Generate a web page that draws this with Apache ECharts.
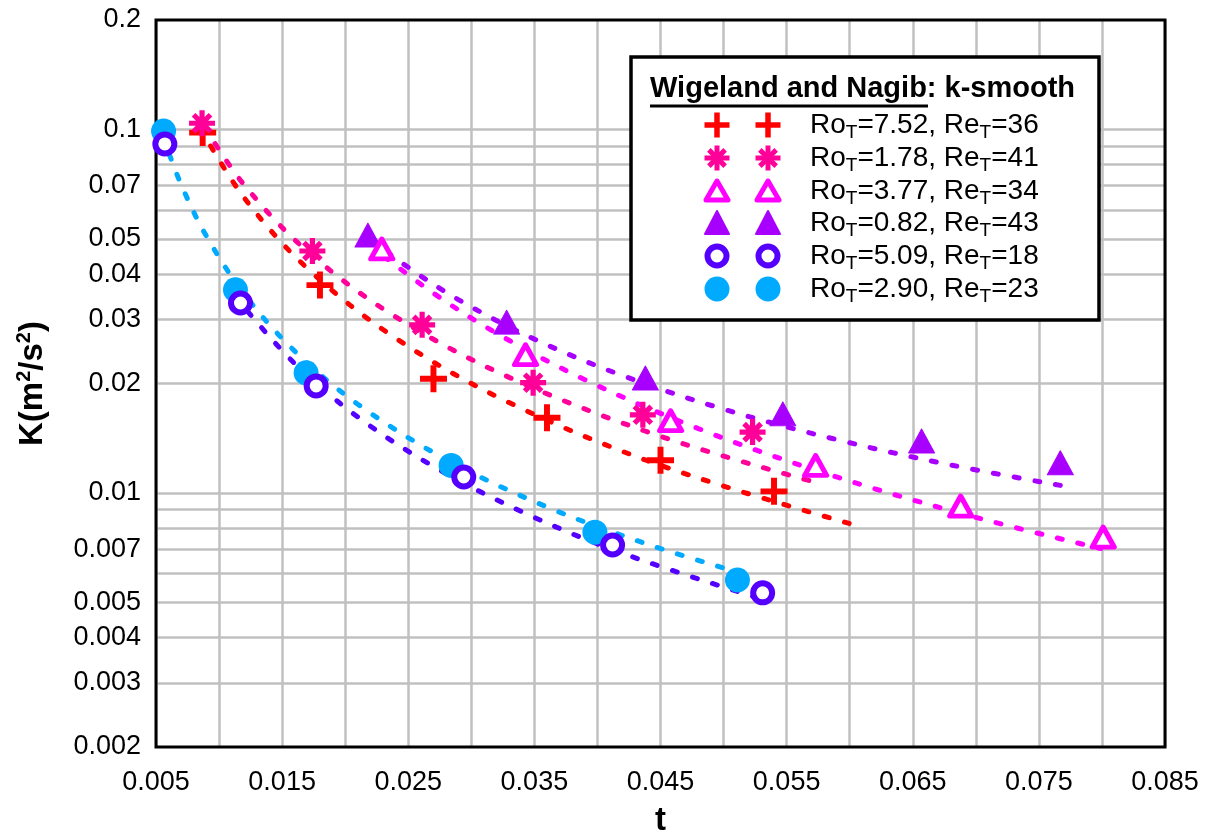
<!DOCTYPE html>
<html>
<head>
<meta charset="utf-8">
<script src="https://cdn.jsdelivr.net/npm/echarts@6/dist/echarts.min.js"></script>
<style>
  html, body { margin: 0; padding: 0; background: #fff; }
  #chart { width: 1215px; height: 833px; }
</style>
</head>
<body>
<div id="chart"></div>
<script>
const FONT = '"Liberation Sans", Arial, Helvetica, sans-serif';

// ---- Legend captions: rotation number Ro_T and Reynolds number Re_T ----
const roValues = ['7.52', '1.78', '3.77', '0.82', '5.09', '2.90'];
const reValues = ['36', '41', '34', '43', '18', '23'];

// ---- Measured decay of turbulent kinetic energy K versus time t ----
const tRo752 = [0.0087, 0.0180, 0.0270, 0.0360, 0.0450, 0.0540];
const kRo752 = [0.098, 0.0373, 0.0206, 0.0161, 0.0123, 0.0101];

const tRo178 = [0.00865, 0.0174, 0.0261, 0.0349, 0.0436, 0.0523];
const kRo178 = [0.104, 0.0463, 0.0290, 0.0201, 0.0164, 0.0147];

const tRo377 = [0.0229, 0.0343, 0.0458, 0.0573, 0.0688, 0.0801];
const kRo377 = [0.0469, 0.0240, 0.0158, 0.0119, 0.0092, 0.00756];

const tRo082 = [0.0218, 0.0328, 0.0438, 0.0547, 0.0657, 0.0767];
const kRo082 = [0.0512, 0.0295, 0.0207, 0.0165, 0.0139, 0.0121];

const tRo509 = [0.0057, 0.0117, 0.0177, 0.0294, 0.0412, 0.0531];
const kRo509 = [0.0912, 0.0333, 0.0197, 0.01106, 0.00719, 0.00531];

const tRo290 = [0.0056, 0.0113, 0.0169, 0.0284, 0.0398, 0.0511];
const kRo290 = [0.099, 0.0362, 0.0214, 0.0119, 0.0078, 0.00576];

// ---- Dotted k-smooth fit curves, sampled along each fit ----
const fitTRo752 = [0.0085, 0.012, 0.017, 0.024, 0.033, 0.045, 0.0604];
const fitKRo752 = [0.1009, 0.0648, 0.04148, 0.02665, 0.01772, 0.01191, 0.00816];

const fitTRo178 = [0.0088, 0.012, 0.017, 0.024, 0.033, 0.045, 0.0577];
const fitKRo178 = [0.1022, 0.0703, 0.04623, 0.03051, 0.02079, 0.01431, 0.0106];

const fitTRo377 = [0.0231, 0.027, 0.032, 0.039, 0.048, 0.058, 0.069, 0.0799];
const fitKRo377 = [0.0447, 0.03543, 0.0275, 0.02049, 0.01503, 0.01134, 0.00875, 0.00703];

const fitTRo082 = [0.0220, 0.0245, 0.029, 0.035, 0.042, 0.050, 0.059, 0.068, 0.0773];
const fitKRo082 = [0.04998, 0.0429, 0.03398, 0.02649, 0.02102, 0.0170, 0.01401, 0.01194, 0.0104];

const fitTRo509 = [0.0123, 0.016, 0.021, 0.027, 0.034, 0.042, 0.0533];
const fitKRo509 = [0.0315, 0.0227, 0.01618, 0.01183, 0.00888, 0.00682, 0.00507];

const fitTRo290 = [0.0055, 0.007, 0.009, 0.012, 0.016, 0.021, 0.028, 0.036, 0.044, 0.0511];
const fitKRo290 = [0.0966, 0.07043, 0.05086, 0.03523, 0.02455, 0.01754, 0.01236, 0.00915, 0.00722, 0.00606];

// ---- Axis ticks ----
const yLabelTicks = [0.002, 0.003, 0.004, 0.005, 0.007, 0.01, 0.02, 0.03, 0.04, 0.05, 0.07, 0.1, 0.2];
const yGridOnlyTicks = [0.006, 0.008, 0.009, 0.06, 0.08, 0.09];

// ---- Marker shapes (unit box 0..100) ----
const PLUS_PTS = [[39,0],[61,0],[61,39],[100,39],[100,61],[61,61],[61,100],[39,100],[39,61],[0,61],[0,39],[39,39]];
const STAR_ARMS = [
  [[40,0],[60,0],[60,100],[40,100]],
  [[0,40],[100,40],[100,60],[0,60]],
  [[24.54,10.4],[89.6,75.46],[75.46,89.6],[10.4,24.54]],
  [[10.4,75.46],[75.46,10.4],[89.6,24.54],[24.54,89.6]]
];
const toPath = pts => 'M' + pts.map(p => p[0] + ',' + p[1]).join(' L') + ' Z';
const PLUS_D = toPath(PLUS_PTS);
const STAR_D = STAR_ARMS.map(toPath).join(' ');

const C_RED = '#FF0000';
const C_PINK = '#FF0099';
const C_MAG = '#FF00FF';
const C_PURP = '#A800FF';
const C_VIOL = '#5500FF';
const C_SKY = '#00AAFF';
const GRID_GRAY = '#C0C0C0';

const pairs = (xs, ys) => xs.map((x, i) => [x, ys[i]]);

function fitSeries(name, xs, ys, color) {
  return {
    name: name, type: 'line', z: 3, silent: true,
    data: pairs(xs, ys), showSymbol: false, symbol: 'none',
    smooth: 0.35,
    lineStyle: { color: color, width: 5, type: [5, 16], cap: 'round', opacity: 1 },
    emphasis: { disabled: true }, animation: false
  };
}

function pointSeries(name, xs, ys, symbol, size, itemStyle, z) {
  itemStyle.opacity = 1;
  return {
    name: name, type: 'scatter', z: z, silent: true,
    data: pairs(xs, ys), symbol: symbol, symbolSize: size,
    itemStyle: itemStyle, emphasis: { disabled: true }, animation: false
  };
}

// Grid lines for the log axis (every 1..9 multiple) with the labelled values
const gridLineData = yLabelTicks.concat(yGridOnlyTicks).map(function (v) {
  const labelled = yLabelTicks.indexOf(v) >= 0;
  const edge = (v === 0.002 || v === 0.2);
  const item = { yAxis: v, label: { show: labelled } };
  if (edge) item.lineStyle = { color: 'rgba(0,0,0,0)' };
  return item;
});

// ---- Legend drawn inside the plot area ----
const legendX = 631, legendY = 57, legendW = 468, legendH = 263;
const rowY = [125, 158, 191, 223, 256, 289];
const keyX = [717, 768];
const legendColors = [C_RED, C_PINK, C_MAG, C_PURP, C_VIOL, C_SKY];

const place = (pts, cx, cy, s) => pts.map(p => [cx + (p[0] - 50) * s / 100, cy + (p[1] - 50) * s / 100]);

function legendMarker(kind, cx, cy, color) {
  if (kind === 'plus') {
    return [{ type: 'polygon', shape: { points: place(PLUS_PTS, cx, cy, 25) }, style: { fill: color } }];
  }
  if (kind === 'star') {
    return STAR_ARMS.map(arm => ({ type: 'polygon', shape: { points: place(arm, cx, cy, 25) }, style: { fill: color } }));
  }
  if (kind === 'triOpen') {
    return [{ type: 'polygon', shape: { points: [[cx, cy - 10], [cx + 11, cy + 9], [cx - 11, cy + 9]] },
      style: { fill: '#fff', stroke: color, lineWidth: 5, lineJoin: 'round' } }];
  }
  if (kind === 'tri') {
    return [{ type: 'polygon', shape: { points: [[cx, cy - 12], [cx + 12, cy + 11], [cx - 12, cy + 11]] },
      style: { fill: color, stroke: color, lineWidth: 2, lineJoin: 'round' } }];
  }
  if (kind === 'circOpen') {
    return [{ type: 'circle', shape: { cx: cx, cy: cy, r: 9.5 }, style: { fill: '#fff', stroke: color, lineWidth: 6 } }];
  }
  return [{ type: 'circle', shape: { cx: cx, cy: cy, r: 12.5 }, style: { fill: color } }];
}

const legendKinds = ['plus', 'star', 'triOpen', 'tri', 'circOpen', 'circ'];
const legendElements = [
  { type: 'rect', shape: { x: legendX, y: legendY, width: legendW, height: legendH },
    style: { fill: '#ffffff', stroke: '#000', lineWidth: 3.5 } },
  { type: 'text', x: 650, y: 89,
    style: { text: 'Wigeland and Nagib: k-smooth', font: 'bold 29px ' + FONT, fill: '#000',
      textAlign: 'left', textVerticalAlign: 'middle' } },
  { type: 'line', shape: { x1: 650, y1: 106, x2: 928, y2: 106 }, style: { stroke: '#000', lineWidth: 3 } }
];
roValues.forEach(function (ro, i) {
  keyX.forEach(function (kx) {
    legendMarker(legendKinds[i], kx, rowY[i], legendColors[i]).forEach(el => legendElements.push(el));
  });
  legendElements.push({
    type: 'text', x: 810, y: rowY[i],
    style: {
      text: '{n|Ro}{s|T}{n|=' + ro + ', Re}{s|T}{n|=' + reValues[i] + '}',
      textAlign: 'left', textVerticalAlign: 'middle', fill: '#000',
      rich: {
        n: { fontSize: 28, fontFamily: FONT, color: '#000', lineHeight: 34 },
        s: { fontSize: 19, fontFamily: FONT, color: '#000', verticalAlign: 'bottom', lineHeight: 22 }
      }
    }
  });
});
legendElements.forEach(function (el, i) { el.z = 100; el.zlevel = 1; el.z2 = i; el.silent = true; });

const chart = echarts.init(document.getElementById('chart'), null, { renderer: 'canvas' });

chart.setOption({
  animation: false,
  backgroundColor: '#fff',
  grid: {
    left: 156, right: 50, top: 20, bottom: 86,
    containLabel: false, outerBoundsMode: 'none',
    show: true, z: 2, borderColor: '#000', borderWidth: 3, backgroundColor: 'rgba(0,0,0,0)'
  },
  xAxis: {
    type: 'value', min: 0.005, max: 0.085, interval: 0.005,
    name: 't', nameLocation: 'middle', nameGap: 57,
    nameTextStyle: { fontFamily: FONT, fontSize: 33, fontWeight: 'bold', color: '#000' },
    axisLine: { show: false }, axisTick: { show: false },
    splitLine: { show: true, lineStyle: { color: GRID_GRAY, width: 2.5 } },
    axisLabel: {
      fontFamily: FONT, fontSize: 27, color: '#000', margin: 22,
      formatter: function (v) { return (Math.round(v * 1000) % 10 === 5) ? v.toFixed(3) : ''; }
    }
  },
  yAxis: {
    type: 'log', logBase: 10, min: 0.002, max: 0.2,
    name: '{b|K(m}{p|2}{b|/s}{p|2}{b|)}', nameLocation: 'middle', nameRotate: 90, nameGap: 104,
    nameTextStyle: {
      rich: {
        b: { fontFamily: FONT, fontSize: 33, fontWeight: 'bold', color: '#000', lineHeight: 38 },
        p: { fontFamily: FONT, fontSize: 20, fontWeight: 'bold', color: '#000', verticalAlign: 'top', lineHeight: 22 }
      }
    },
    axisLine: { show: false }, axisTick: { show: false },
    splitLine: { show: false }, minorSplitLine: { show: false },
    axisLabel: { show: false }
  },
  graphic: { z: 100, zlevel: 1, elements: legendElements },
  series: [
    {
      name: 'grid', type: 'line', data: [], silent: true,
      markLine: {
        silent: true, z: 1, precision: 6, symbol: ['none', 'none'], animation: false,
        lineStyle: { color: GRID_GRAY, width: 2.5, type: 'solid' },
        label: {
          show: true, position: 'start', distance: 15,
          fontFamily: FONT, fontSize: 27, color: '#000',
          formatter: function (p) { return String(p.value); }
        },
        emphasis: { disabled: true },
        data: gridLineData
      }
    },
    fitSeries('fit 7.52', fitTRo752, fitKRo752, C_RED),
    fitSeries('fit 1.78', fitTRo178, fitKRo178, C_PINK),
    fitSeries('fit 3.77', fitTRo377, fitKRo377, C_MAG),
    fitSeries('fit 0.82', fitTRo082, fitKRo082, C_PURP),
    fitSeries('fit 5.09', fitTRo509, fitKRo509, C_VIOL),
    fitSeries('fit 2.90', fitTRo290, fitKRo290, C_SKY),
    pointSeries('Ro 7.52', tRo752, kRo752, 'path://' + PLUS_D, 27, { color: C_RED }, 4),
    pointSeries('Ro 1.78', tRo178, kRo178, 'path://' + STAR_D, 26, { color: C_PINK }, 5),
    pointSeries('Ro 0.82', tRo082, kRo082, 'triangle', [26, 24], { color: C_PURP, borderColor: C_PURP, borderWidth: 1, borderJoin: 'round' }, 4),
    pointSeries('Ro 3.77', tRo377, kRo377, 'triangle', [22, 20], { color: '#fff', borderColor: C_MAG, borderWidth: 5, borderJoin: 'round' }, 5),
    pointSeries('Ro 2.90', tRo290, kRo290, 'circle', 25, { color: C_SKY }, 4),
    pointSeries('Ro 5.09', tRo509, kRo509, 'circle', 19, { color: '#fff', borderColor: C_VIOL, borderWidth: 6 }, 5)
  ]
});
</script>
</body>
</html>
